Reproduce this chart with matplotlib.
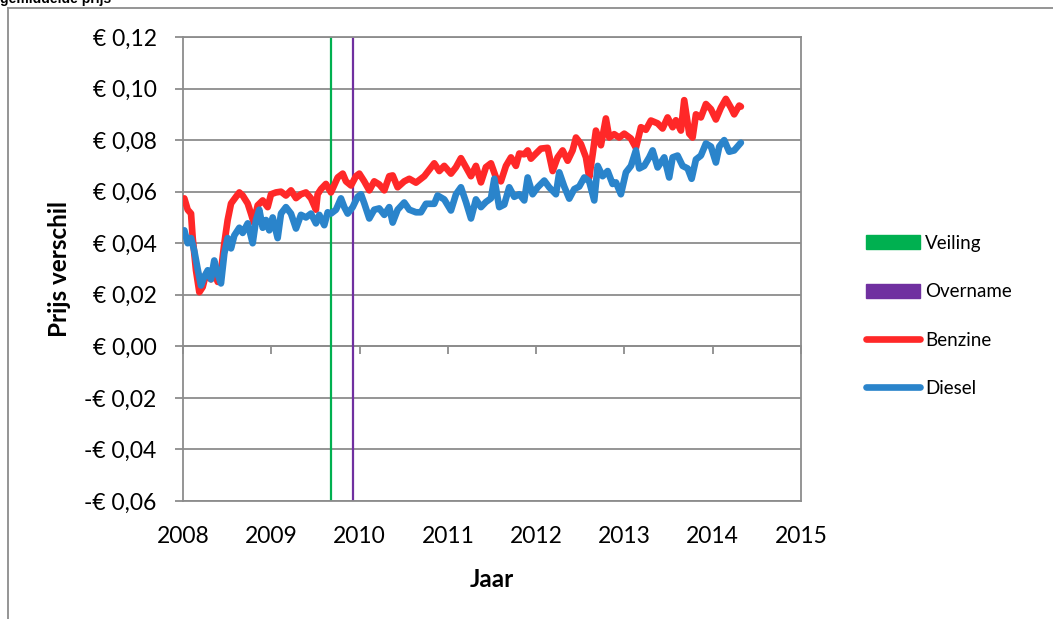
import matplotlib
matplotlib.use("Agg")
import matplotlib.pyplot as plt
import matplotlib.font_manager as fm
from matplotlib.patches import Patch
from matplotlib.lines import Line2D
from matplotlib.ticker import FuncFormatter, MultipleLocator

# ---------------- data ----------------
red_years = [2008.015, 2008.053, 2008.091, 2008.110, 2008.147, 2008.185, 2008.223, 2008.260, 2008.317, 2008.354,
             2008.393, 2008.430, 2008.468, 2008.506, 2008.544, 2008.600, 2008.638, 2008.676, 2008.733, 2008.770,
             2008.801, 2008.846, 2008.903, 2008.959, 2008.997, 2009.053, 2009.110, 2009.166, 2009.223, 2009.280,
             2009.336, 2009.393, 2009.450, 2009.506, 2009.525, 2009.563, 2009.619, 2009.676, 2009.752, 2009.809,
             2009.846, 2009.903, 2009.959, 2009.997, 2010.053, 2010.110, 2010.166, 2010.223, 2010.280, 2010.336,
             2010.375, 2010.431, 2010.506, 2010.563, 2010.639, 2010.733, 2010.846, 2010.903, 2010.959, 2011.035,
             2011.092, 2011.148, 2011.205, 2011.262, 2011.318, 2011.375, 2011.431, 2011.488, 2011.545, 2011.601,
             2011.658, 2011.715, 2011.771, 2011.809, 2011.865, 2011.904, 2011.941, 2011.998, 2012.054, 2012.130,
             2012.187, 2012.243, 2012.300, 2012.357, 2012.413, 2012.451, 2012.507, 2012.564, 2012.601, 2012.640,
             2012.677, 2012.734, 2012.790, 2012.828, 2012.884, 2012.941, 2012.998, 2013.074, 2013.130, 2013.187,
             2013.243, 2013.300, 2013.376, 2013.432, 2013.489, 2013.546, 2013.583, 2013.640, 2013.677, 2013.734,
             2013.772, 2013.810, 2013.866, 2013.923, 2013.980, 2014.036, 2014.093, 2014.149, 2014.206, 2014.243,
             2014.300, 2014.319]
benzine = [0.0574, 0.053, 0.0515, 0.042, 0.0295, 0.021, 0.023, 0.028, 0.026, 0.029,
           0.025, 0.029, 0.040, 0.049, 0.0554, 0.058, 0.0597, 0.0585, 0.0554, 0.0515,
           0.048, 0.0547, 0.0566, 0.054, 0.059, 0.0597, 0.060, 0.0585, 0.0605, 0.0575,
           0.059, 0.0597, 0.0574, 0.053, 0.059, 0.061, 0.063, 0.0597, 0.0655, 0.067,
           0.064, 0.0624, 0.066, 0.067, 0.064, 0.0605, 0.064, 0.0628, 0.0605, 0.066,
           0.0663, 0.0617, 0.064, 0.065, 0.0635, 0.066, 0.071, 0.068, 0.070, 0.067,
           0.0695, 0.073, 0.0695, 0.066, 0.070, 0.0636, 0.0695, 0.071, 0.0655, 0.064,
           0.070, 0.0733, 0.070, 0.0748, 0.0745, 0.076, 0.0728, 0.0748, 0.0767, 0.077,
           0.068, 0.0733, 0.076, 0.072, 0.076, 0.081, 0.0785, 0.0733, 0.0655, 0.0745,
           0.0837, 0.078, 0.0884, 0.081, 0.0823, 0.081, 0.0825, 0.0806, 0.077, 0.085,
           0.084, 0.0876, 0.0865, 0.0845, 0.0888, 0.085, 0.0877, 0.0837, 0.0955, 0.0825,
           0.081, 0.090, 0.0888, 0.094, 0.092, 0.088, 0.0926, 0.096, 0.0926, 0.090,
           0.0934, 0.093]

blue_years = [2008.015, 2008.053, 2008.091, 2008.128, 2008.166, 2008.204, 2008.241, 2008.280, 2008.317, 2008.354,
              2008.393, 2008.430, 2008.468, 2008.506, 2008.544, 2008.581, 2008.638, 2008.676, 2008.733, 2008.789,
              2008.827, 2008.864, 2008.903, 2008.940, 2008.977, 2009.016, 2009.072, 2009.110, 2009.166, 2009.223,
              2009.280, 2009.336, 2009.393, 2009.450, 2009.506, 2009.544, 2009.600, 2009.639, 2009.676, 2009.733,
              2009.789, 2009.827, 2009.865, 2009.922, 2009.978, 2010.016, 2010.053, 2010.110, 2010.166, 2010.223,
              2010.280, 2010.336, 2010.375, 2010.431, 2010.506, 2010.563, 2010.639, 2010.695, 2010.752, 2010.846,
              2010.884, 2010.959, 2011.035, 2011.092, 2011.148, 2011.205, 2011.262, 2011.318, 2011.375, 2011.431,
              2011.488, 2011.526, 2011.582, 2011.639, 2011.695, 2011.752, 2011.809, 2011.865, 2011.904, 2011.960,
              2012.017, 2012.092, 2012.148, 2012.224, 2012.262, 2012.318, 2012.375, 2012.432, 2012.488, 2012.545,
              2012.601, 2012.658, 2012.697, 2012.753, 2012.810, 2012.866, 2012.904, 2012.960, 2013.017, 2013.074,
              2013.130, 2013.168, 2013.224, 2013.281, 2013.319, 2013.376, 2013.451, 2013.507, 2013.546, 2013.602,
              2013.659, 2013.716, 2013.761, 2013.810, 2013.866, 2013.923, 2013.980, 2014.036, 2014.074, 2014.130,
              2014.187, 2014.243, 2014.319]
diesel = [0.045, 0.040, 0.042, 0.037, 0.030, 0.0236, 0.027, 0.0295, 0.026, 0.0333,
          0.028, 0.0244, 0.036, 0.042, 0.038, 0.043, 0.046, 0.044, 0.0477, 0.040,
          0.049, 0.053, 0.046, 0.049, 0.045, 0.050, 0.042, 0.0515, 0.054, 0.0515,
          0.0457, 0.051, 0.050, 0.0515, 0.0477, 0.051, 0.047, 0.052, 0.0515, 0.053,
          0.0574, 0.054, 0.0515, 0.054, 0.058, 0.059, 0.0555, 0.0496, 0.053, 0.0535,
          0.051, 0.054, 0.048, 0.053, 0.0558, 0.053, 0.052, 0.052, 0.0553, 0.0553,
          0.0585, 0.057, 0.0527, 0.059, 0.0617, 0.056, 0.0496, 0.057, 0.054, 0.056,
          0.0574, 0.065, 0.054, 0.055, 0.0617, 0.058, 0.059, 0.0566, 0.0655, 0.059,
          0.0617, 0.0643, 0.0617, 0.059, 0.0675, 0.062, 0.0573, 0.061, 0.062, 0.0655,
          0.064, 0.0566, 0.070, 0.066, 0.068, 0.063, 0.0636, 0.059, 0.0675, 0.070,
          0.076, 0.069, 0.070, 0.0733, 0.076, 0.0694, 0.0733, 0.0655, 0.0733, 0.074,
          0.070, 0.069, 0.065, 0.0725, 0.074, 0.0787, 0.0775, 0.0713, 0.0775, 0.080,
          0.0755, 0.076, 0.079]

event_labels = ["Veiling", "Overname"]
event_years = [2009.68, 2009.93]
series_labels = ["Benzine", "Diesel"]
x_ticks = [2008, 2009, 2010, 2011, 2012, 2013, 2014, 2015]
y_min, y_max, y_step = -0.06, 0.12, 0.02

# ---------------- style ----------------
names = {f.name for f in fm.fontManager.ttflist}
FONT = "Lato" if "Lato" in names else "DejaVu Sans"
FS_TICK, FS_LEG, FS_LAB = 16.5, 13.5, 17.5
plt.rcParams["font.family"] = [FONT, "DejaVu Sans"]

GRAY = "#8c8c8c"
RED = "#ff2828"
BLUE = "#2a84cb"
GREEN = "#00b050"
PURPLE = "#7030a0"
LW = 4.8

W, H = 1053, 619
fig = plt.figure(figsize=(W / 100, H / 100), dpi=100)
ax = fig.add_axes([183 / W, 1 - 501 / H, (801 - 183) / W, (501 - 37) / H])

# event lines
ev_colors = [GREEN, PURPLE]
for yr, c in zip(event_years, ev_colors):
    ax.axvline(yr, color=c, lw=1.6, zorder=2)

ax.plot(red_years, benzine, color=RED, lw=LW, solid_capstyle="round",
        solid_joinstyle="round", zorder=3)
ax.plot(blue_years, diesel, color=BLUE, lw=LW, solid_capstyle="round",
        solid_joinstyle="round", zorder=4)

ax.set_xlim(x_ticks[0], x_ticks[-1])
ax.set_ylim(y_min, y_max)
ax.yaxis.set_major_locator(MultipleLocator(y_step))
ax.set_xticks(x_ticks)
ax.set_xticklabels([str(t) for t in x_ticks])


def euro(v, pos):
    s = f"{abs(v):.2f}".replace(".", ",")
    if round(v, 4) < 0:
        return "-€ " + s
    return "€ " + s


ax.yaxis.set_major_formatter(FuncFormatter(euro))
ax.grid(axis="y", color=GRAY, lw=1.3)
ax.set_axisbelow(True)
for sp in ax.spines.values():
    sp.set_color(GRAY)
    sp.set_linewidth(1.3)

ax.tick_params(axis="y", direction="out", length=6, width=1.3, color=GRAY,
               labelsize=FS_TICK, pad=13, labelcolor="black")
ax.tick_params(axis="x", length=0, labelsize=FS_TICK, pad=18, labelcolor="black")

# horizontal axis crossing at zero with tick marks
zero_pos = (0 - y_min) / (y_max - y_min)
sec = ax.secondary_xaxis(zero_pos)
sec.set_xticks(x_ticks)
sec.tick_params(direction="out", length=6, width=1.3, color=GRAY, labelbottom=False)
for sp in sec.spines.values():
    sp.set_color(GRAY)
    sp.set_linewidth(1.3)

ax.set_ylabel("Prijs verschil", fontsize=FS_LAB, fontweight="bold")
ax.yaxis.set_label_coords(-0.181, 0.5)
ax.set_xlabel("Jaar", fontsize=FS_LAB, fontweight="bold", va="top")
ax.xaxis.set_label_coords(0.5, -0.145)

# legend
handles = [Patch(facecolor=GREEN, edgecolor=GREEN),
           Patch(facecolor=PURPLE, edgecolor=PURPLE),
           Line2D([], [], color=RED, lw=LW, solid_capstyle="round"),
           Line2D([], [], color=BLUE, lw=LW, solid_capstyle="round")]
em = FS_LEG * 100 / 72
fig.legend(handles, event_labels + series_labels, loc="center left",
           bbox_to_anchor=(866 / W, 1 - 316 / H), frameon=False, fontsize=FS_LEG,
           handlelength=54 / em, handleheight=14 / em, handletextpad=5 / em,
           labelspacing=(53 - 1.15 * em) / em, borderpad=0, borderaxespad=0)

# outer chart-area frame (cut off at right and bottom)
fig.add_artist(Line2D([8 / W, 8 / W], [1 - 7.5 / H, 0], color=GRAY, lw=1.3,
                      transform=fig.transFigure))
fig.add_artist(Line2D([8 / W, 1], [1 - 7.5 / H, 1 - 7.5 / H], color=GRAY, lw=1.3,
                      transform=fig.transFigure))

# partially visible title (cut off at the top edge, as in the original)
fig.text(0.0, 1 - 3.5 / H, "gemiddelde prijs", fontsize=10, fontweight="bold",
         family=["Liberation Sans", "DejaVu Sans"], va="baseline", ha="left")

fig.savefig("out.png", dpi=100)
